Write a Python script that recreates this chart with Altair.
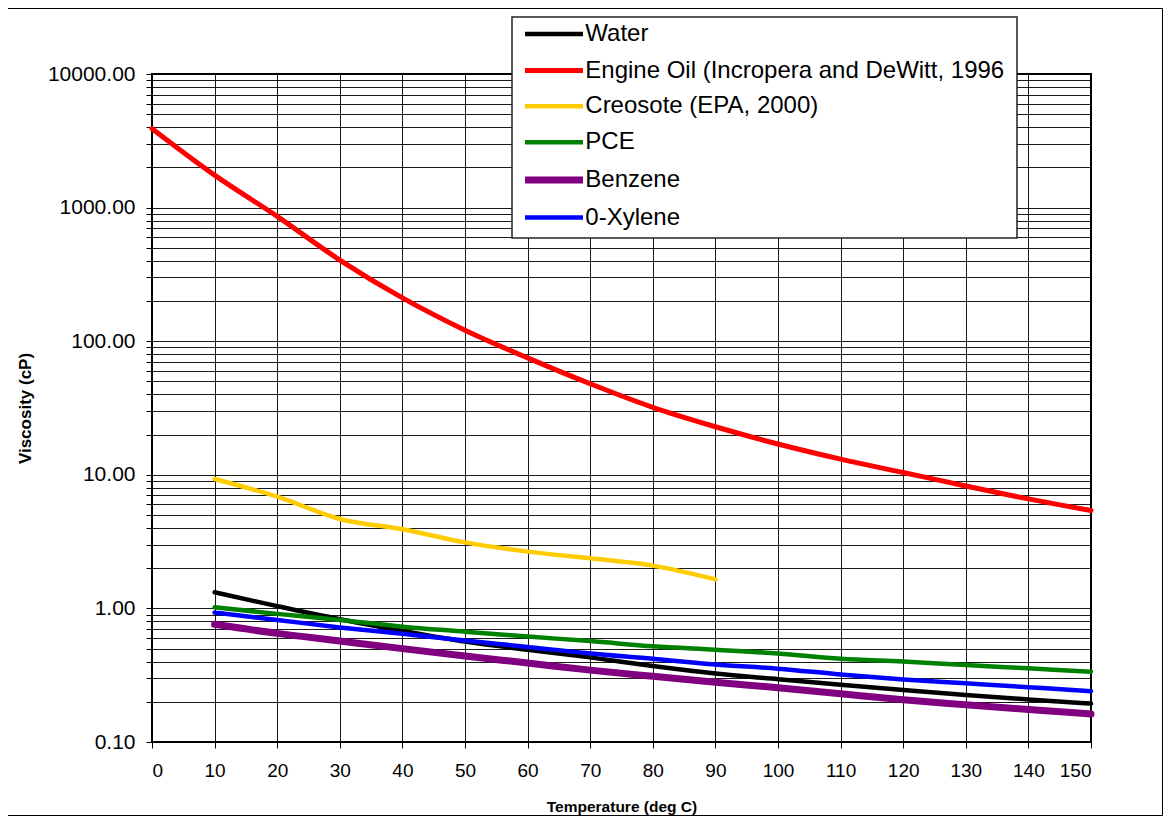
import altair as alt
import pandas as pd

series = ["Water", "Engine Oil (Incropera and DeWitt, 1996", "\u00a0Creosote (EPA, 2000)",
          "PCE", "Benzene", "0-Xylene"]
colors = ["#000000", "#FF0000", "#FFCC00", "#008000", "#800080", "#0000FF"]
widths = [4.5, 5, 4.5, 4.5, 7, 4.5]

temps_common = [10, 20, 30, 40, 50, 60, 70, 80, 90, 100, 110, 120, 130, 140, 150]
temps_oil = [0, 10, 20, 30, 40, 50, 60, 70, 80, 90, 100, 110, 120, 130, 140, 150]
temps_creosote = [10, 20, 30, 40, 50, 60, 70, 80, 90]

water = [1.32, 1.04, 0.83, 0.68, 0.565, 0.49, 0.43, 0.37, 0.325, 0.295, 0.268, 0.245, 0.225, 0.208, 0.194]
engine_oil = [3900, 1750, 860, 405, 211, 121, 75, 48, 32, 22.9, 17.0, 13.1, 10.4, 8.24, 6.6, 5.4]
creosote = [9.3, 6.86, 4.67, 3.91, 3.12, 2.66, 2.37, 2.09, 1.65]
pce = [1.02, 0.91, 0.82, 0.73, 0.67, 0.615, 0.57, 0.52, 0.49, 0.46, 0.42, 0.40, 0.377, 0.356, 0.336]
benzene = [0.76, 0.65, 0.57, 0.50, 0.44, 0.39, 0.345, 0.31, 0.28, 0.255, 0.23, 0.207, 0.19, 0.175, 0.162]
xylene = [0.93, 0.82, 0.72, 0.645, 0.575, 0.515, 0.46, 0.42, 0.38, 0.354, 0.32, 0.294, 0.275, 0.257, 0.24]

x_ticks = list(range(0, 151, 10))
y_ticks = [round(m * 10.0 ** e, 6) for e in range(-1, 4) for m in range(1, 10)] + [10000]

rows = []
for name, ts, vs in [(series[0], temps_common, water), (series[1], temps_oil, engine_oil),
                     (series[2], temps_creosote, creosote), (series[3], temps_common, pce),
                     (series[4], temps_common, benzene), (series[5], temps_common, xylene)]:
    for t, v in zip(ts, vs):
        rows.append({"S": name, "T": t, "V": v, "k": series.index(name)})
df = pd.DataFrame(rows)

label_expr = ("abs(log(datum.value)/LN10 - round(log(datum.value)/LN10)) < 0.001 "
              "? format(datum.value, '.2f') : ''")

lines = alt.Chart(df).mark_line(interpolate="monotone", strokeCap="round", strokeJoin="round").encode(
    x=alt.X("T:Q", scale=alt.Scale(domain=[0, 150], nice=False, zero=False),
            axis=alt.Axis(values=x_ticks, title="Temperature (deg C)", labelFontSize=19,
                          labelPadding=13, titlePadding=19, titleFontSize=15.5, format="d")),
    y=alt.Y("V:Q", scale=alt.Scale(type="log", domain=[0.1, 10000], nice=False),
            axis=alt.Axis(values=y_ticks, labelExpr=label_expr, title="Viscosity (cP)",
                          labelFontSize=21, labelPadding=11, titlePadding=13, titleFontSize=17)),
    color=alt.Color("S:N", scale=alt.Scale(domain=series, range=colors),
                    legend=alt.Legend(title=None, orient="none", legendX=382, legendY=-58.5,
                                      symbolType="M-1.8,0H1.8", symbolSize=1037, labelFontSize=24,
                                      labelOffset=11.3, padding=0, rowPadding=5.1, labelLimit=700,
                                      labelColor="black")),
    strokeWidth=alt.StrokeWidth("S:N", scale=alt.Scale(type="ordinal", domain=series, range=widths)),
    order=alt.Order("k:Q"),
)

legend_box = alt.Chart(alt.Data(values=[{}])).mark_rect(
    fill="white", stroke="#222222", strokeWidth=1.5
).encode(x=alt.value(360), x2=alt.value(865), y=alt.value(-57), y2=alt.value(164))

frame = alt.Chart(alt.Data(values=[{}])).mark_rect(
    fill="white", fillOpacity=0, stroke="black", strokeWidth=1
).encode(x=alt.value(-144.5), x2=alt.value(1010.5), y=alt.value(-65.5), y2=alt.value(741.5))

chart = alt.layer(lines, legend_box, frame).properties(
    width=939, height=668,
    autosize=alt.AutoSizeParams(type="none"),
    padding={"left": 144, "top": 66, "right": 72, "bottom": 74},
).configure(
    font="Liberation Sans",
).configure_view(
    stroke="black", strokeWidth=2
).configure_axis(
    grid=True, gridColor="black", gridWidth=1, gridOpacity=0.9,
    domain=False, tickColor="black", tickSize=6, tickWidth=1,
    labelColor="black", titleColor="black", titleFontWeight="bold",
)

chart.save("out.html", embed_options={"renderer": "svg", "actions": False})
